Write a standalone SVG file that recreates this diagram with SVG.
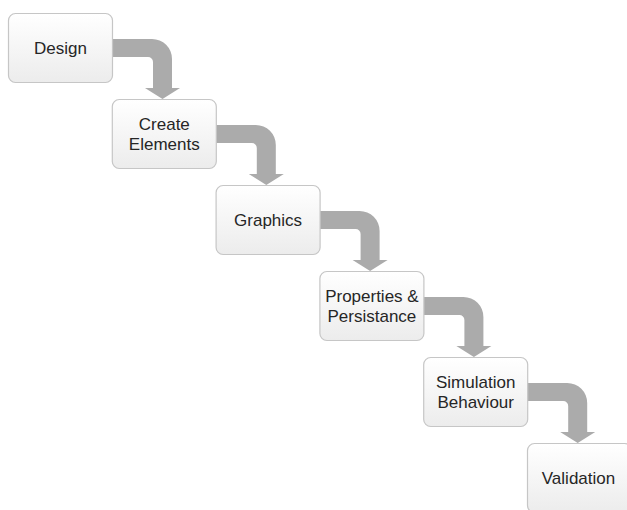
<svg xmlns="http://www.w3.org/2000/svg" xmlns:xlink="http://www.w3.org/1999/xlink" width="627" height="510" viewBox="0 0 627 510">
<defs>
<linearGradient id="boxfill" x1="0" y1="0" x2="0" y2="1">
<stop offset="0" stop-color="#ffffff"/>
<stop offset="1" stop-color="#ececec"/>
</linearGradient>
<path id="bent" d="M 100 26 H 144 A 20 20 0 0 1 164 46 V 75 H 172 L 154.5 86 L 137 75 H 145 V 49 A 5 5 0 0 0 140 44 H 100 Z"/>
<style>
.box { fill: url(#boxfill); stroke: #c6c6c6; stroke-width: 1.2; }
.arrow { fill: #ababab; }
.lbl { font-family: "Liberation Sans", Arial, sans-serif; font-size: 17px; fill: #262626; text-anchor: middle; }
</style>
</defs>
<rect width="627" height="510" fill="#ffffff"/>
<g id="connectors">
<use xlink:href="#bent" class="arrow" transform="translate(8,13)"/>
<use xlink:href="#bent" class="arrow" transform="translate(111.8,99)"/>
<use xlink:href="#bent" class="arrow" transform="translate(215.6,185)"/>
<use xlink:href="#bent" class="arrow" transform="translate(319.4,271)"/>
<use xlink:href="#bent" class="arrow" transform="translate(423.2,357)"/>
</g>
<g id="design">
<rect class="box" x="8.5" y="13.5" width="104" height="69" rx="7"/>
<text class="lbl" x="60.5" y="54">Design</text>
</g>
<g id="create-elements">
<rect class="box" x="112.3" y="99.5" width="104" height="69" rx="7"/>
<text class="lbl" x="164.3" y="129.5">Create</text>
<text class="lbl" x="164.3" y="149.5">Elements</text>
</g>
<g id="graphics">
<rect class="box" x="216.1" y="185.5" width="104" height="69" rx="7"/>
<text class="lbl" x="268.1" y="226">Graphics</text>
</g>
<g id="properties-persistance">
<rect class="box" x="319.9" y="271.5" width="104" height="69" rx="7"/>
<text class="lbl" x="371.9" y="301.5">Properties &amp;</text>
<text class="lbl" x="371.9" y="321.5">Persistance</text>
</g>
<g id="simulation-behaviour">
<rect class="box" x="423.7" y="357.5" width="104" height="69" rx="7"/>
<text class="lbl" x="475.7" y="387.5">Simulation</text>
<text class="lbl" x="475.7" y="407.5">Behaviour</text>
</g>
<g id="validation">
<rect class="box" x="527.5" y="443.5" width="104" height="69" rx="7"/>
<text class="lbl" x="578.5" y="484">Validation</text>
</g>
</svg>
